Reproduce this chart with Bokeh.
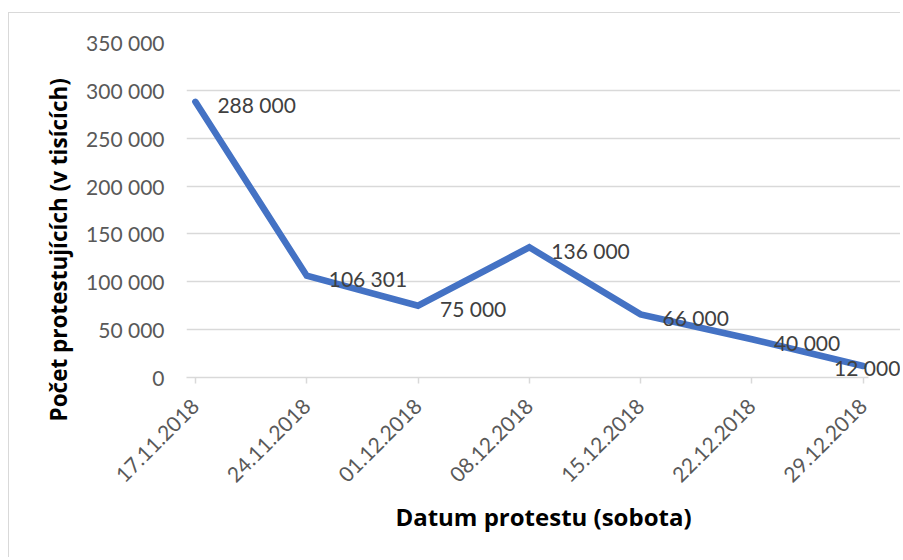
import math
from bokeh.plotting import figure
from bokeh.models import FixedTicker, ColumnDataSource, LabelSet, Title, Range1d
from bokeh.core.properties import value
from bokeh.embed import file_html
from bokeh.resources import INLINE

dates = ["17.11.2018", "24.11.2018", "01.12.2018", "08.12.2018",
         "15.12.2018", "22.12.2018", "29.12.2018"]
counts = [288000, 106301, 75000, 136000, 66000, 40000, 12000]
y_ticks = [0, 50000, 100000, 150000, 200000, 250000, 300000, 350000]
x_title = "Datum protestu (sobota)"
y_title = "Počet protestujících (v tisících)"

FONT = "Lato"
TFONT = "Open Sans"


def fmt(v):
    return f"{v:,}".replace(",", " ")


xs = list(range(len(dates)))
x_lo, x_hi = -0.08, len(dates) - 1 + 0.05
px_per_unit = 111.3
W, H = 892, 545
ML, MR, MT, MB = 177, 1, 29, 181
x_end = x_lo + (W - ML - MR) / px_per_unit

p = figure(width=W, height=H, output_backend="svg", toolbar_location=None,
           x_range=Range1d(x_lo, x_end),
           y_range=Range1d(0, 350000),
           min_border_left=ML, min_border_right=MR,
           min_border_top=MT, min_border_bottom=MB)
p.styles = {"margin-left": "8px", "margin-top": "12px",
            "border-left": "1px solid #d9d9d9",
            "border-top": "1px solid #d9d9d9"}
p.outline_line_color = None
p.background_fill_color = "white"
p.border_fill_color = "white"

# x axis
p.xaxis.ticker = FixedTicker(ticks=xs)
p.xaxis.bounds = (x_lo, x_hi)
p.xaxis.major_label_overrides = {i: d for i, d in zip(xs, dates)}
p.xaxis.major_label_orientation = math.pi / 4
p.xaxis.major_label_text_font = FONT
p.xaxis.major_label_text_font_size = "21px"
p.xaxis.major_label_text_color = "#595959"
p.xaxis.major_label_standoff = 19
p.xaxis.axis_line_color = "#d9d9d9"
p.xaxis.axis_line_width = 1.5
p.xaxis.major_tick_line_color = "#d9d9d9"
p.xaxis.major_tick_line_width = 1.5
p.xaxis.major_tick_in = 0
p.xaxis.major_tick_out = 6
p.xaxis.minor_tick_line_color = None
p.xaxis.axis_label = x_title
p.xaxis.axis_label_text_font = TFONT
p.xaxis.axis_label_text_font_style = "bold"
p.xaxis.axis_label_text_font_size = "24px"
p.xaxis.axis_label_text_color = "black"
p.xaxis.axis_label_standoff = 8

# y axis
p.yaxis.ticker = FixedTicker(ticks=y_ticks)
p.yaxis.major_label_overrides = {v: fmt(v) for v in y_ticks}
p.yaxis.major_label_text_font = FONT
p.yaxis.major_label_text_font_size = "21px"
p.yaxis.major_label_text_color = "#595959"
p.yaxis.major_label_standoff = 16
p.yaxis.axis_line_color = None
p.yaxis.major_tick_line_color = None
p.yaxis.minor_tick_line_color = None

p.xgrid.grid_line_color = None
p.ygrid.grid_line_color = "#d9d9d9"
p.ygrid.grid_line_width = 1.5
p.ygrid.bounds = (x_lo, x_hi)

p.line(xs, counts, line_color="#4472c4", line_width=6.5,
       line_join="miter", line_cap="round")

n = len(counts)
src = ColumnDataSource(dict(
    x=xs, y=counts, t=[fmt(v) for v in counts],
    align=["left"] * (n - 1) + ["center"],
    xo=[22] * (n - 1) + [4],
    yo=[-3] * (n - 1) + [-1],
))
labels = LabelSet(x="x", y="y", text="t", source=src,
                  x_offset="xo", y_offset="yo",
                  text_align="align", text_baseline="middle",
                  text_font=value(FONT), text_font_size="21px",
                  text_color="#404040")
p.add_layout(labels)

ytitle = Title(text=y_title, align="left", offset=-44, standoff=20,
               text_font=TFONT, text_font_style="bold",
               text_font_size="22.5px", text_color="black")
p.add_layout(ytitle, "left")

open("out.html", "w").write(file_html(p, INLINE))
